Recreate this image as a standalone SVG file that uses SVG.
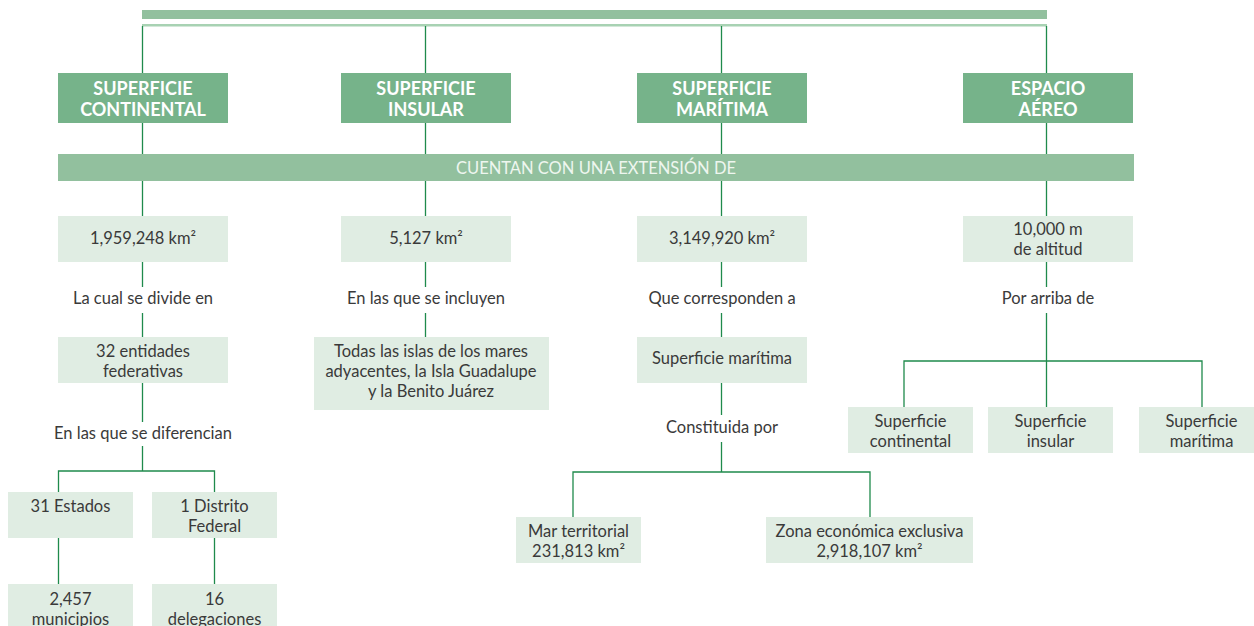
<svg xmlns="http://www.w3.org/2000/svg" width="1254" height="626" viewBox="0 0 1254 626">
<style>
.hdr{fill:#76b38a}
.box{fill:#e0ede3}
.band{fill:#92c09e}
.ln{stroke:#1f8a4c;stroke-width:1.3;fill:none}
.ht{font-family:Lato,"Liberation Sans",sans-serif;font-weight:bold;font-size:18px;fill:#fff;text-anchor:middle}
.t{font-family:Lato,"Liberation Sans",sans-serif;font-size:16.5px;fill:#3a3a3a;text-anchor:middle}
.bt{font-family:Lato,"Liberation Sans",sans-serif;font-size:16.5px;fill:#eef6ef;text-anchor:middle}
</style>
<rect width="1254" height="626" fill="#fff"/>
<rect x="142" y="10" width="905" height="9" class="band"/>
<rect x="142" y="24" width="905" height="2.5" fill="#a8d2b3"/>
<g id="connectors">
<path class="ln" d="M142.5 26V216M425.5 26V216M721.5 26V216M1046.5 26V216"/>
<path class="ln" d="M142.5 262V287M142.5 313V337M142.5 383V422M142.5 446V471M58.5 492V471H214.5V492M58.5 538V584M214.5 538V584"/>
<path class="ln" d="M425.5 262V287M425.5 313V337"/>
<path class="ln" d="M721.5 262V287M721.5 313V337M721.5 383V415M721.5 442V472M573 517V472H870V517"/>
<path class="ln" d="M1046.5 262V287M1046.5 313V407M904 407V361H1202V407"/>
</g>
<g id="band-extension">
<rect x="58" y="154" width="1076" height="27" class="band"/>
<text x="596" y="173.5" class="bt">CUENTAN CON UNA EXTENSIÓN DE</text>
</g>
<g id="h-continental"><rect x="58" y="73" width="170" height="50" class="hdr"/><text x="143" y="95" class="ht">SUPERFICIE</text><text x="143" y="116" class="ht">CONTINENTAL</text></g>
<g id="h-insular"><rect x="341" y="73" width="170" height="50" class="hdr"/><text x="426" y="95" class="ht">SUPERFICIE</text><text x="426" y="116" class="ht">INSULAR</text></g>
<g id="h-maritima"><rect x="637" y="73" width="170" height="50" class="hdr"/><text x="722" y="95" class="ht">SUPERFICIE</text><text x="722" y="116" class="ht">MARÍTIMA</text></g>
<g id="h-aereo"><rect x="963" y="73" width="170" height="50" class="hdr"/><text x="1048" y="95" class="ht">ESPACIO</text><text x="1048" y="116" class="ht">AÉREO</text></g>
<g id="v-continental"><rect x="58" y="216" width="170" height="46" class="box"/><text x="143" y="244" class="t">1,959,248 km²</text></g>
<g id="v-insular"><rect x="341" y="216" width="170" height="46" class="box"/><text x="426" y="244" class="t">5,127 km²</text></g>
<g id="v-maritima"><rect x="637" y="216" width="170" height="46" class="box"/><text x="722" y="244" class="t">3,149,920 km²</text></g>
<g id="v-aereo"><rect x="963" y="216" width="170" height="46" class="box"/><text x="1048" y="235" class="t">10,000 m</text><text x="1048" y="255" class="t">de altitud</text></g>
<g id="l-divide"><text x="143" y="304" class="t">La cual se divide en</text></g>
<g id="l-incluyen"><text x="426" y="304" class="t">En las que se incluyen</text></g>
<g id="l-corresponden"><text x="722" y="304" class="t">Que corresponden a</text></g>
<g id="l-arriba"><text x="1048" y="304" class="t">Por arriba de</text></g>
<g id="entidades"><rect x="58" y="337" width="170" height="46" class="box"/><text x="143" y="357" class="t">32 entidades</text><text x="143" y="377" class="t">federativas</text></g>
<g id="islas"><rect x="314" y="337" width="235" height="73" class="box"/><text x="431" y="357" class="t">Todas las islas de los mares</text><text x="431" y="377" class="t">adyacentes, la Isla Guadalupe</text><text x="431" y="397" class="t">y la Benito Juárez</text></g>
<g id="sup-maritima"><rect x="637" y="337" width="170" height="46" class="box"/><text x="722" y="364" class="t">Superficie marítima</text></g>
<g id="l-diferencian"><text x="143" y="439" class="t">En las que se diferencian</text></g>
<g id="l-constituida"><text x="722" y="433" class="t">Constituida por</text></g>
<g id="estados"><rect x="8" y="492" width="125" height="46" class="box"/><text x="70.5" y="512" class="t">31 Estados</text></g>
<g id="distrito"><rect x="152" y="492" width="125" height="46" class="box"/><text x="214.5" y="512" class="t">1 Distrito</text><text x="214.5" y="532" class="t">Federal</text></g>
<g id="municipios"><rect x="8" y="584" width="125" height="46" class="box"/><text x="70.5" y="605" class="t">2,457</text><text x="70.5" y="625" class="t">municipios</text></g>
<g id="delegaciones"><rect x="152" y="584" width="125" height="46" class="box"/><text x="214.5" y="605" class="t">16</text><text x="214.5" y="625" class="t">delegaciones</text></g>
<g id="mar-territorial"><rect x="516" y="517" width="125" height="46" class="box"/><text x="578.5" y="537" class="t">Mar territorial</text><text x="578.5" y="557" class="t">231,813 km²</text></g>
<g id="zona-economica"><rect x="766" y="517" width="207" height="46" class="box"/><text x="869.5" y="537" class="t">Zona económica exclusiva</text><text x="869.5" y="557" class="t">2,918,107 km²</text></g>
<g id="a-continental"><rect x="848" y="407" width="125" height="46" class="box"/><text x="910.5" y="427" class="t">Superficie</text><text x="910.5" y="447" class="t">continental</text></g>
<g id="a-insular"><rect x="988" y="407" width="125" height="46" class="box"/><text x="1050.5" y="427" class="t">Superficie</text><text x="1050.5" y="447" class="t">insular</text></g>
<g id="a-maritima"><rect x="1139" y="407" width="125" height="46" class="box"/><text x="1201.5" y="427" class="t">Superficie</text><text x="1201.5" y="447" class="t">marítima</text></g>
</svg>
